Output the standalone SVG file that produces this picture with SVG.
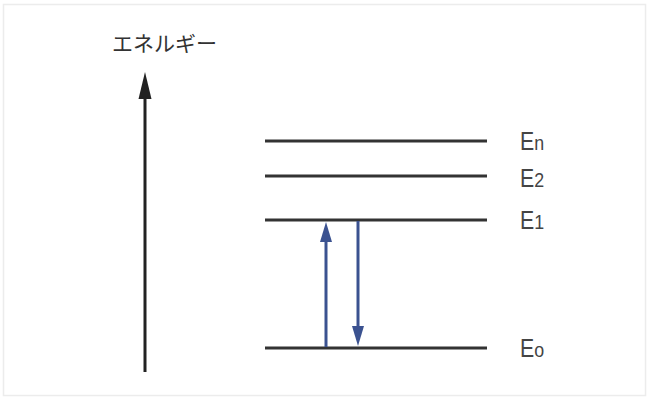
<svg xmlns="http://www.w3.org/2000/svg" width="649" height="399" viewBox="0 0 649 399">
  <style>
    .level { stroke: #333; stroke-width: 3; fill: none; }
    .lbl { font-family: "Liberation Sans", "Noto Sans", sans-serif; font-size: 25px; fill: #444; }
    .sub { font-size: 21px; }
    .title { font-family: "Noto Sans CJK JP", "Noto Sans", sans-serif; font-size: 21px; fill: #333; }
    .trans { stroke: #3b5290; stroke-width: 3; fill: none; }
  </style>

  <!-- frame -->
  <rect x="3.5" y="4.5" width="642" height="391" fill="#fff" stroke="#ececec" stroke-width="1.5"/>

  <!-- energy axis -->
  <g id="axis">
    <line x1="145" y1="372" x2="145" y2="95" stroke="#222" stroke-width="3"/>
    <path d="M145,72 L151.5,99 L138.5,99 Z" fill="#222"/>
    <text class="title" x="112" y="51">エネルギー</text>
  </g>

  <!-- energy levels -->
  <g id="level-En">
    <line class="level" x1="265" y1="141" x2="487" y2="141"/>
    <text class="lbl" x="520" y="150" transform="translate(520 0) scale(0.85 1) translate(-520 0)">E<tspan class="sub">n</tspan></text>
  </g>
  <g id="level-E2">
    <line class="level" x1="265" y1="176" x2="487" y2="176"/>
    <text class="lbl" x="520" y="187" transform="translate(520 0) scale(0.85 1) translate(-520 0)">E<tspan class="sub">2</tspan></text>
  </g>
  <g id="level-E1">
    <line class="level" x1="265" y1="220" x2="487" y2="220"/>
    <text class="lbl" x="520" y="229" transform="translate(520 0) scale(0.85 1) translate(-520 0)">E<tspan class="sub">1</tspan></text>
  </g>
  <g id="level-E0">
    <line class="level" x1="265" y1="348" x2="487" y2="348"/>
    <text class="lbl" x="520" y="357" transform="translate(520 0) scale(0.85 1) translate(-520 0)">E<tspan class="sub">o</tspan></text>
  </g>

  <!-- transitions -->
  <g id="connectors">
    <line class="trans" x1="326" y1="347" x2="326" y2="238"/>
    <path d="M326,222 L332,242 L320,242 Z" fill="#3b5290"/>
    <line class="trans" x1="358" y1="221" x2="358" y2="330"/>
    <path d="M358,346 L364,326 L352,326 Z" fill="#3b5290"/>
  </g>
</svg>
